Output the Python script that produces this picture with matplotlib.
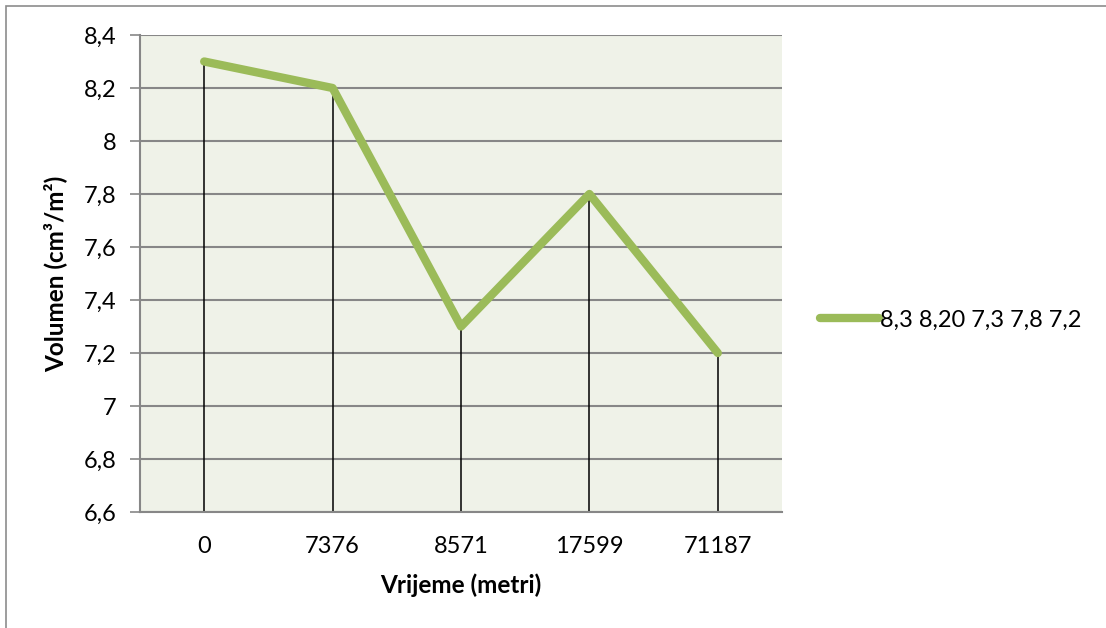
import matplotlib
matplotlib.use("Agg")
import matplotlib.pyplot as plt
from matplotlib.patches import Rectangle

categories = ["0", "7376", "8571", "17599", "71187"]
values = [8.3, 8.2, 7.3, 7.8, 7.2]
series_name = "8,3 8,20 7,3 7,8 7,2"
y_ticks = [6.6, 6.8, 7.0, 7.2, 7.4, 7.6, 7.8, 8.0, 8.2, 8.4]
y_tick_labels = ["6,6", "6,8", "7", "7,2", "7,4", "7,6", "7,8", "8", "8,2", "8,4"]

plt.rcParams['font.family'] = ['Lato', 'DejaVu Sans']

W, H = 1106, 628
fig = plt.figure(figsize=(W / 100, H / 100), dpi=100)
fig.patch.set_facecolor("white")

# outer chart border (top and left visible)
fig.add_artist(Rectangle((6 / W, -0.1), 1.2, (H - 6) / H + 0.1, transform=fig.transFigure,
                         fill=False, edgecolor="#8c8c8c", linewidth=1.2))

ax = fig.add_axes([140 / W, (H - 512) / H, 642 / W, 477 / H])
ax.set_facecolor("#eff2e8")

x = list(range(len(categories)))
ax.set_xlim(-0.5, len(categories) - 0.5)
ax.set_ylim(6.6, 8.4)

ax.set_yticks(y_ticks)
ax.set_yticklabels(y_tick_labels)
ax.set_xticks(x)
ax.set_xticklabels(categories)

ax.grid(axis="y", color="#878787", linewidth=1.5, zorder=1)
ax.set_axisbelow(True)

ax.vlines(x, 6.6, values, color="black", linewidth=1.1, zorder=2)
ax.plot(x, values, color="#9bbb59", linewidth=6, solid_capstyle="round",
        solid_joinstyle="round", label=series_name, zorder=3)

for s in ["top", "right"]:
    ax.spines[s].set_visible(False)
for s in ["left", "bottom"]:
    ax.spines[s].set_color("#878787")
    ax.spines[s].set_linewidth(1.5)

ax.tick_params(axis="y", direction="out", length=7, width=1.2, color="#878787",
               labelsize=17, pad=10)
ax.tick_params(axis="x", length=0, labelsize=17, pad=17)

ax.set_xlabel("Vrijeme (metri)", fontsize=17.5, fontweight="bold", labelpad=12)
ax.set_ylabel("Volumen (cm³/m²)", fontsize=17.5, fontweight="bold", labelpad=12)

leg = ax.legend(loc="center left", bbox_to_anchor=(820 / W, (H - 320) / H),
                bbox_transform=fig.transFigure, frameon=False, fontsize=17,
                handlelength=2.5, handletextpad=0.05, borderpad=0, borderaxespad=0)

fig.savefig("out.png", dpi=100)
